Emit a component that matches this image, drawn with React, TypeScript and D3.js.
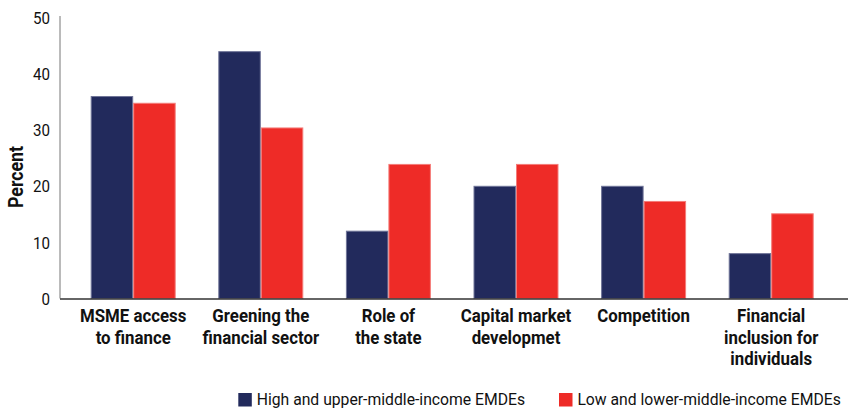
import React from "react";
import * as d3 from "d3";

const categories: string[][] = [
  ["MSME access", "to finance"],
  ["Greening the", "financial sector"],
  ["Role of", "the state"],
  ["Capital market", "developmet"],
  ["Competition"],
  ["Financial", "inclusion for", "individuals"],
];
const seriesNames = ["High and upper-middle-income EMDEs", "Low and lower-middle-income EMDEs"];
const highUpper = [36, 44, 12, 20, 20, 8];
const lowLower = [34.8, 30.4, 23.9, 23.9, 17.3, 15.1];
const yTicks = [0, 10, 20, 30, 40, 50];

const colors = ["#222a5c", "#ee2b27"];
const strokes = ["#6f7498", "#f47c79"];

const W = 848;
const H = 409;
const FONT = "Roboto, 'Noto Sans', sans-serif";

function CText(props: {
  x: number;
  y: number;
  anchor?: "start" | "middle" | "end";
  size: number;
  sx: number;
  bold?: boolean;
  rotate?: number;
  children: React.ReactNode;
}) {
  const { x, y, anchor = "start", size, sx, bold, rotate = 0, children } = props;
  return (
    <g transform={`translate(${x},${y}) rotate(${rotate}) scale(${sx},1)`}>
      <text textAnchor={anchor} dy="0.36em" fontSize={size} fontWeight={bold ? "bold" : "normal"} fill="#111" fontFamily={FONT}>
        {children}
      </text>
    </g>
  );
}

export default function App() {
  const keys = categories.map((c) => c.join(" "));
  const x0 = d3.scaleBand<string>().domain(keys).range([60, 844.4]).paddingInner(0.334).paddingOuter(0.2406);
  const x1 = d3.scaleBand<number>().domain([0, 1]).range([0, x0.bandwidth()]);
  const y = d3.scaleLinear().domain([0, 50]).range([298.5, 18]);
  const series = [highUpper, lowLower];
  const legendX = [238.3, 559];

  return (
    <svg width={W} height={H} style={{ position: "absolute", left: 0, top: 0, background: "#fff" }} fontFamily={FONT}>
      <line x1={60} x2={60} y1={16} y2={298.5} stroke="#777" strokeWidth={1} />
      {yTicks.map((t) => (
        <CText key={t} x={50} y={y(t)} anchor="end" size={17} sx={0.89}>
          {t}
        </CText>
      ))}
      <CText x={16} y={177} anchor="middle" size={20} sx={0.89} bold rotate={-90}>
        Percent
      </CText>
      {keys.map((k, i) => (
        <g key={k} transform={`translate(${x0(k)},0)`}>
          {series.map((s, j) => (
            <rect
              key={j}
              x={x1(j)! + 0.5}
              y={y(s[i])}
              width={x1.bandwidth() - 1}
              height={y(0) - y(s[i])}
              fill={colors[j]}
              stroke={strokes[j]}
              strokeWidth={1}
            />
          ))}
        </g>
      ))}
      <line x1={60} x2={848} y1={299} y2={299} stroke="#333" strokeWidth={1.5} />
      {keys.map((k, i) =>
        categories[i].map((line, li) => (
          <CText key={k + li} x={x0(k)! + x0.bandwidth() / 2} y={315.5 + li * 21.5} anchor="middle" size={18.5} sx={0.91} bold>
            {line}
          </CText>
        ))
      )}
      {seriesNames.map((n, j) => {
        const lx = legendX[j];
        return (
          <g key={n}>
            <rect x={lx} y={393} width={13.5} height={13.5} fill={colors[j]} />
            <CText x={lx + 18.4} y={398.5} size={17.2} sx={0.915}>
              {n}
            </CText>
          </g>
        );
      })}
    </svg>
  );
}
